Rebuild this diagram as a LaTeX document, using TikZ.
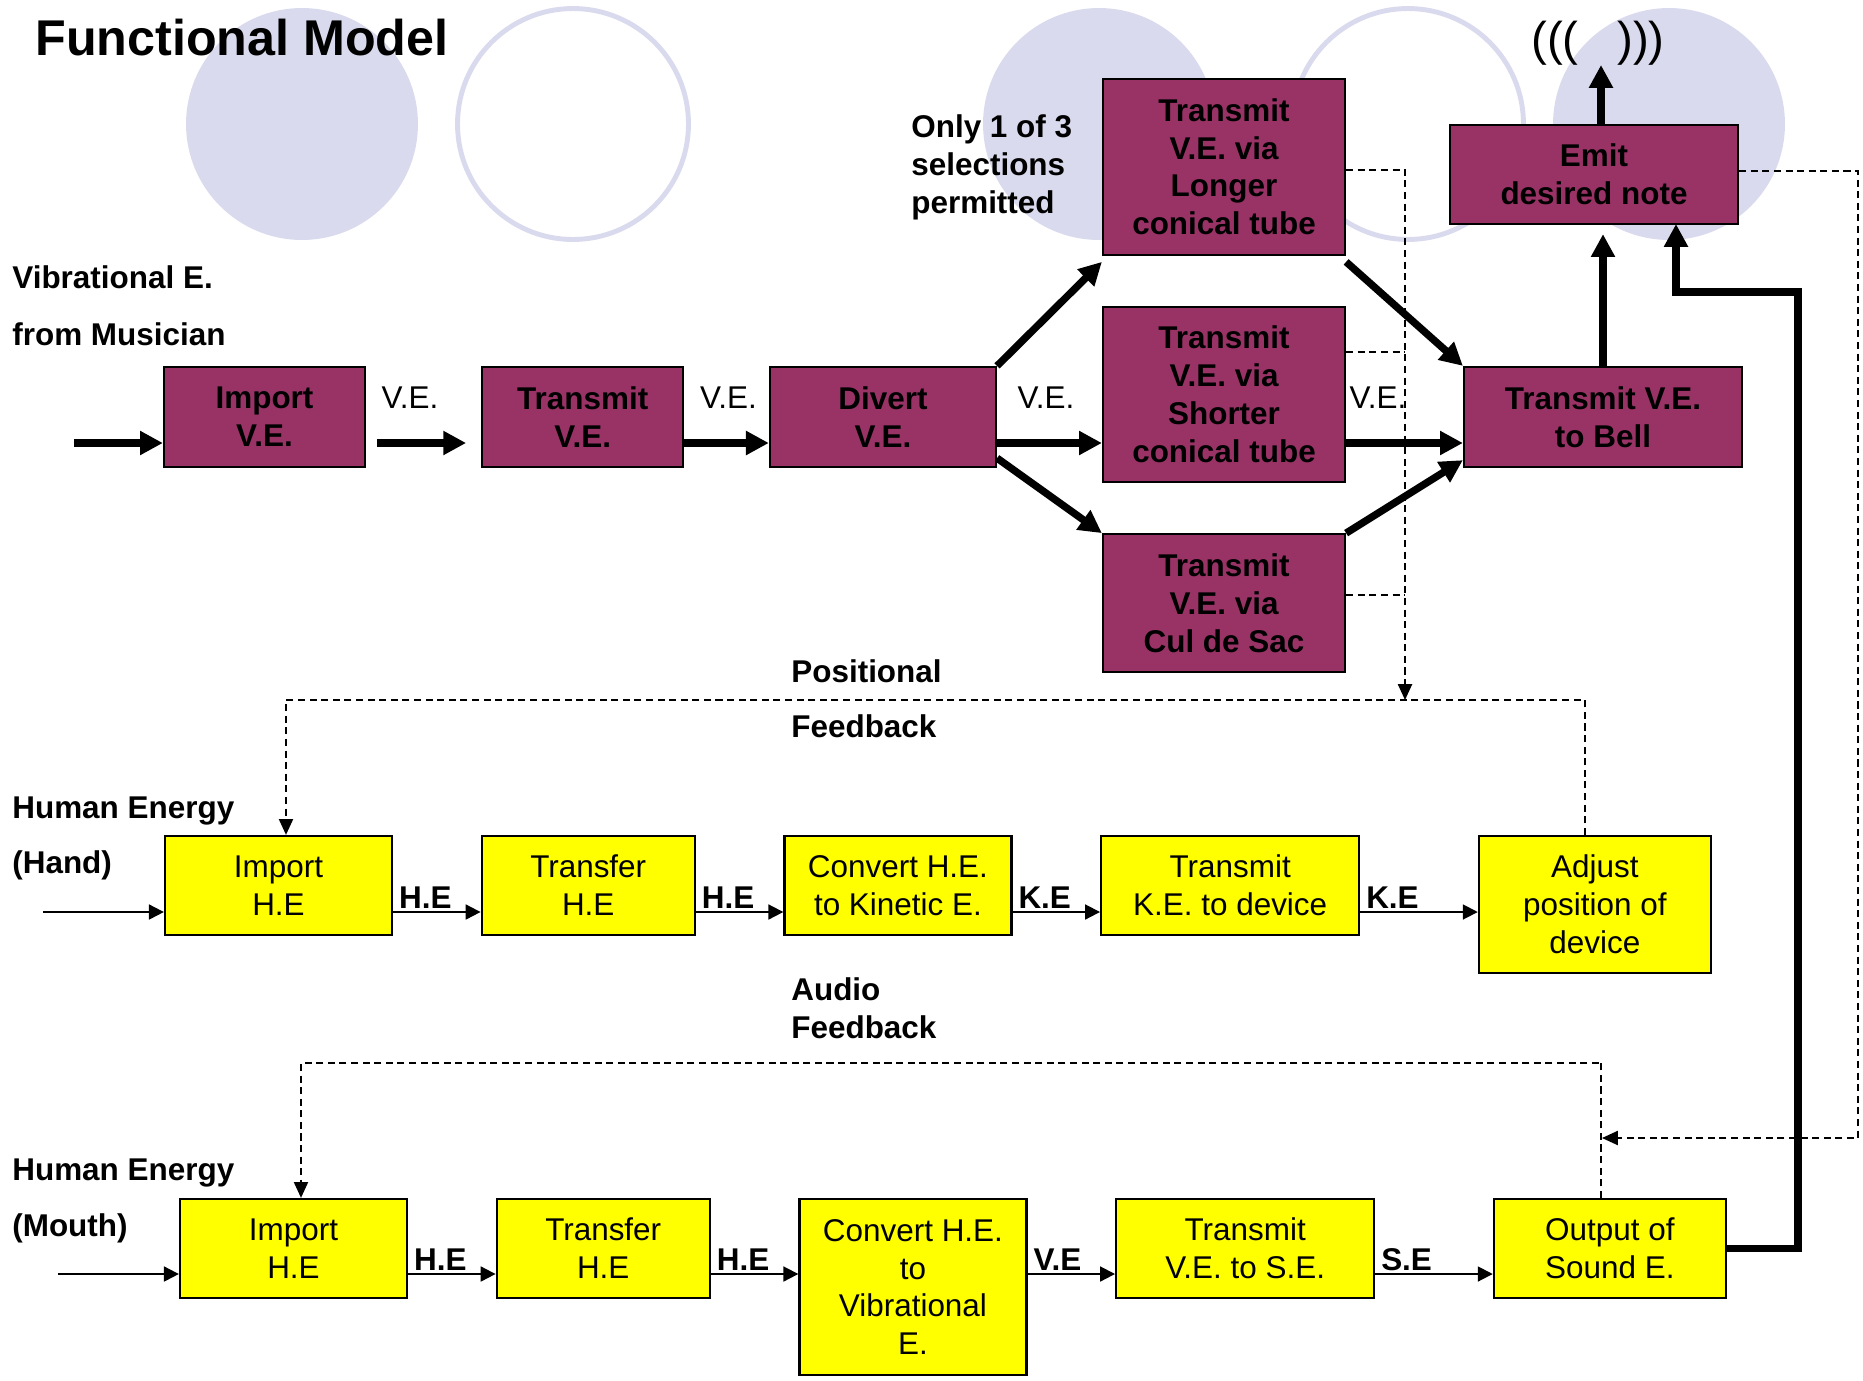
\documentclass[tikz,border=0pt]{standalone}
\usepackage{fontspec}
\setmainfont{Liberation Sans}
\usetikzlibrary{positioning,arrows.meta}
\definecolor{FmPlum}{RGB}{153,51,102}
\definecolor{FmYellow}{RGB}{255,255,0}
\definecolor{FmLilac}{RGB}{218,218,238}
\tikzset{
  fm box/.style={
    draw=black,
    line width=1.3pt,
    align=center,
    inner sep=0pt,
    font=\fontsize{17.9}{21.6}\selectfont
  },
  fm ve/.style={fm box, fill=FmPlum, font=\fontsize{17.9}{21.6}\selectfont\bfseries},
  fm he/.style={fm box, fill=FmYellow},
  fm text/.style={inner sep=0pt, align=left, font=\fontsize{17.9}{21.6}\selectfont\bfseries},
  fm tag/.style={inner sep=0pt, font=\fontsize{17.9}{21.6}\selectfont},
  fm on/.style={fm text, pos=0, anchor=base west, xshift=0.1cm, yshift=0.08cm},
  fm thick/.style={-{Triangle[length=13pt,width=13pt]}, line width=4.2pt},
  fm flow/.style={-{Triangle[length=8.5pt,width=8.5pt]}, line width=1.1pt},
  fm dash/.style={dash pattern=on 4pt off 2.6pt, line width=1pt},
  fm dash arrow/.style={fm dash, -{Triangle[length=9pt,width=8pt]}},
  fm disc/.style={fill=FmLilac},
  fm ring/.style={draw=FmLilac, line width=2.8pt}
}
\begin{document}
\begin{tikzpicture}[x=0.02cm, y=-0.02cm, node distance=1.75cm]
\useasboundingbox (0,0) rectangle (1863,1380);
% backdrop discs
\fill[fm disc] (302,124) circle[radius=2.32cm];
\draw[fm ring] (573,124) circle[radius=2.31cm];
\fill[fm disc] (1099,124) circle[radius=2.32cm];
\draw[fm ring] (1408,124) circle[radius=2.31cm];
\fill[fm disc] (1669,124) circle[radius=2.32cm];

\node[anchor=base west, inner sep=0pt, font=\fontsize{28.6}{34}\selectfont\bfseries] (title) at (35,55) {Functional Model};

% vibrational chain
\coordinate (mus in) at (74,443);
\coordinate (ve row) at (0,443);
\node[fm text, anchor=base west] (vib) at (12,288) {Vibrational E.};
\node[fm text, anchor=base west] (mus) at (12,345) {from Musician};
\node[fm text, anchor=north west] (only) at (911,114) {Only 1 of 3\\selections\\permitted};
\node[fm ve, minimum width=4.02cm, minimum height=2cm] (ive) at (264.5,417) {Import\\V.E.};
\node[fm ve, minimum width=4.02cm, minimum height=2cm, right=2.3cm of ive] (tve) {Transmit\\V.E.};
\node[fm ve, minimum width=4.52cm, minimum height=2cm, right=1.69cm of tve] (dve) {Divert\\V.E.};
\node[fm ve, minimum width=4.84cm, minimum height=3.5cm] (tshort) at (1224,394.5) {Transmit\\V.E. via\\Shorter\\conical tube};
\node[fm ve, minimum width=4.84cm, minimum height=3.52cm, above=1.0cm of tshort] (tlong) {Transmit\\V.E. via\\Longer\\conical tube};
\node[fm ve, minimum width=4.84cm, minimum height=2.76cm, below=1.0cm of tshort] (tcul) {Transmit\\V.E. via\\Cul de Sac};
\node[fm ve, minimum width=5.56cm, minimum height=2cm] (tbell) at (1603,417) {Transmit V.E.\\to Bell};
\node[fm ve, minimum width=5.76cm, minimum height=1.98cm] (emit) at (1594,174.5) {Emit\\desired note};
\node[fm tag, anchor=base] (ve a) at (410,408) {V.E.};
\node[fm tag, anchor=base] (ve b) at (728.5,408) {V.E.};
\node[fm tag, anchor=base] (ve c) at (1046,408) {V.E.};
\node[fm tag, anchor=base] (ve d) at (1378,408) {V.E.};
\coordinate (snd) at (1601,65);
\node[fm tag, anchor=base east, font=\fontsize{27}{30}\selectfont] (wave l) at (1579,55) {(((};
\node[fm tag, anchor=base west, font=\fontsize{27}{30}\selectfont] (wave r) at (1617,55) {)))};

\draw[fm thick] (mus in) -- (ive.west |- ve row);
\draw[fm thick, shorten <=0.22cm, shorten >=0.3cm] (ive.east |- ve row) -- (tve.west |- ve row);
\draw[fm thick] (tve.east |- ve row) -- (dve.west |- ve row);
\draw[fm thick] (dve.east |- ve row) -- (tshort.west |- ve row);
\draw[fm thick] (dve.north east) -- ([yshift=-0.12cm]tlong.south west);
\draw[fm thick] ([yshift=0.2cm]dve.south east) -- (tcul.north west);
\draw[fm thick] (tshort.east |- ve row) -- (tbell.west |- ve row);
\draw[fm thick] ([yshift=-0.12cm]tlong.south east) -- (tbell.north west);
\draw[fm thick] (tcul.north east) -- ([yshift=0.16cm]tbell.south west);
\draw[fm thick, shorten >=0.18cm] (tbell.north) -- (tbell.north |- emit.south);
\draw[fm thick] (snd |- emit.north) -- (snd);

% selection feedback
\coordinate (pf) at (1405,700);
\coordinate (ts out) at ([yshift=0.85cm]tshort.east);
\coordinate (tc out) at ([yshift=0.16cm]tcul.east);
\draw[fm dash arrow] ([yshift=-0.06cm]tlong.east) -| (pf);
\draw[fm dash] (ts out) -- (ts out -| pf);
\draw[fm dash] (tc out) -- (tc out -| pf);
\node[fm text, anchor=base west] (pos a) at (791,682) {Positional};
\node[fm text, anchor=base west] (pos b) at (791,737) {Feedback};

% hand chain
\coordinate (hand in) at (43,912);
\coordinate (he row) at (0,912);
\node[fm text, anchor=base west] (hum a) at (12,818) {Human Energy};
\node[fm text, anchor=base west] (hand) at (12,873) {(Hand)};
\node[fm he, minimum width=4.54cm, minimum height=1.98cm] (ihh) at (278.5,885.5) {Import\\H.E};
\node[fm he, minimum width=4.26cm, minimum height=1.98cm, right=of ihh] (thh) {Transfer\\H.E};
\node[fm he, minimum width=4.54cm, minimum height=1.98cm, right=of thh] (ckh) {Convert H.E.\\to Kinetic E.};
\node[fm he, minimum width=5.16cm, minimum height=1.98cm, right=of ckh] (tkd) {Transmit\\K.E. to device};
\node[fm he, minimum width=4.64cm, minimum height=2.74cm, right=2.35cm of tkd.north east, anchor=north west] (adj) {Adjust\\position of\\device};
\draw[fm flow] (hand in) -- (ihh.west |- he row);
\draw[fm flow] (ihh.east |- he row) -- node[fm on] (lh a) {H.E} (thh.west |- he row);
\draw[fm flow] (thh.east |- he row) -- node[fm on] (lh b) {H.E} (ckh.west |- he row);
\draw[fm flow] (ckh.east |- he row) -- node[fm on] (lh c) {K.E} (tkd.west |- he row);
\draw[fm flow] (tkd.east |- he row) -- node[fm on] (lh d) {K.E} (adj.west |- he row);
\draw[fm dash arrow] ([xshift=-0.2cm]adj.north) |- (pf) -| ([xshift=0.15cm]ihh.north);

% mouth chain
\coordinate (mouth in) at (58,1274);
\coordinate (mo row) at (0,1274);
\node[fm text, anchor=base west] (hum b) at (12,1180) {Human Energy};
\node[fm text, anchor=base west] (mouth) at (12,1236) {(Mouth)};
\node[fm text, anchor=north west] (aud) at (791,977) {Audio\\Feedback};
\node[fm he, minimum width=4.54cm, minimum height=1.98cm] (ihm) at (293.5,1248.5) {Import\\H.E};
\node[fm he, minimum width=4.26cm, minimum height=1.98cm, right=of ihm] (thm) {Transfer\\H.E};
\node[fm he, minimum width=4.54cm, minimum height=3.52cm, right=of thm.north east, anchor=north west] (cvm) {Convert H.E.\\to\\Vibrational\\E.};
\node[fm he, minimum width=5.16cm, minimum height=1.98cm, right=of cvm.north east, anchor=north west] (tvs) {Transmit\\V.E. to S.E.};
\node[fm he, minimum width=4.64cm, minimum height=1.98cm, right=2.35cm of tvs] (out) {Output of\\Sound E.};
\draw[fm flow] (mouth in) -- (ihm.west |- mo row);
\draw[fm flow] (ihm.east |- mo row) -- node[fm on] (lm a) {H.E} (thm.west |- mo row);
\draw[fm flow] (thm.east |- mo row) -- node[fm on] (lm b) {H.E} (cvm.west |- mo row);
\draw[fm flow] (cvm.east |- mo row) -- node[fm on] (lm c) {V.E} (tvs.west |- mo row);
\draw[fm flow] (tvs.east |- mo row) -- node[fm on] (lm d) {S.E} (out.west |- mo row);

% audio feedback and sound path
\coordinate (af top) at (1602,1063);
\coordinate (af) at (1602,1138);
\coordinate (edge r) at (1858,1138);
\coordinate (loop r) at (1798,292);
\coordinate (emit in) at (1676,224);
\draw[fm dash arrow] ([xshift=-0.18cm]out.north) |- (af top) -| ([xshift=0.15cm]ihm.north);
\draw[fm dash arrow] ([yshift=0.07cm]emit.east) -| (edge r) -- (af);
\draw[fm thick] (out.east) -| (loop r) -| (emit in);
\end{tikzpicture}
\end{document}
